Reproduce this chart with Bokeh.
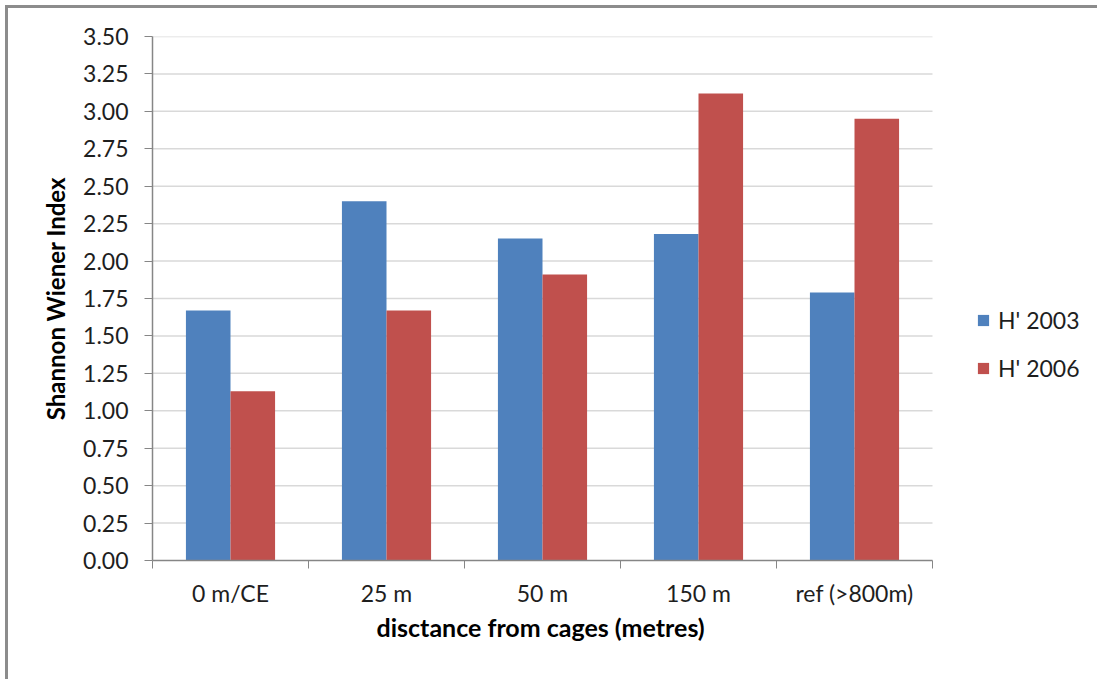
from bokeh.plotting import figure
from bokeh.models import (FixedTicker, NumeralTickFormatter, Range1d, Legend,
                          LegendItem, ColumnDataSource, Title)
from bokeh.embed import file_html
from bokeh.resources import INLINE
from jinja2 import Template

# Shannon-Wiener diversity by distance from the fish cages
categories = ["0 m/CE", "25 m", "50 m", "150 m", "ref (>800m)"]
h_2003 = [1.67, 2.40, 2.15, 2.18, 1.79]
h_2006 = [1.13, 1.67, 1.91, 3.12, 2.95]
series_names = ["H' 2003", "H' 2006"]
y_ticks = [0.0, 0.25, 0.5, 0.75, 1.0, 1.25, 1.5, 1.75, 2.0, 2.25, 2.5,
           2.75, 3.0, 3.25, 3.5]
x_title = "disctance from cages (metres)"
y_title = "Shannon Wiener Index"

BLUE = "#4f81bd"
RED = "#c0504d"
FONT = "Lato"
TEXT = "#1e1e1e"
AXIS = "#868686"

W, H = 1089, 671
LEFT, TOP, BOTTOM = 144, 28, 119
PLOT_W = 780                 # width of the category area in pixels
n = len(categories)
# the frame runs to the right edge so the legend can sit beside the bars
x_end = n * (W - LEFT) / PLOT_W

bar_w = 1 / 3.5              # Excel-style 150% gap width
centers = [i + 0.5 for i in range(n)]

src = ColumnDataSource(dict(
    x03=[c - bar_w / 2 for c in centers],
    x06=[c + bar_w / 2 for c in centers],
    h03=h_2003,
    h06=h_2006,
))

p = figure(
    width=W, height=H,
    x_range=Range1d(0, x_end),
    y_range=Range1d(0, 3.5),
    output_backend="svg", toolbar_location=None,
    min_border_left=LEFT, min_border_top=TOP,
    min_border_right=0, min_border_bottom=BOTTOM,
)
p.outline_line_color = None
p.background_fill_color = "white"
p.border_fill_color = "white"
p.xgrid.grid_line_color = None
p.ygrid.grid_line_color = None

# horizontal gridlines limited to the category area
grid_y = [t for t in y_ticks if t > 0]
p.segment(x0=[0] * len(grid_y), x1=[n] * len(grid_y), y0=grid_y, y1=grid_y,
          line_color="#d9d9d9", line_width=1.5)

r03 = p.vbar(x="x03", top="h03", width=bar_w, source=src,
             fill_color=BLUE, line_color=None)
r06 = p.vbar(x="x06", top="h06", width=bar_w, source=src,
             fill_color=RED, line_color=None)

# y axis
p.yaxis.ticker = FixedTicker(ticks=y_ticks)
p.yaxis.formatter = NumeralTickFormatter(format="0.00")
p.yaxis.axis_label = y_title
p.yaxis.axis_line_color = AXIS
p.yaxis.major_tick_line_color = AXIS
p.yaxis.major_tick_out = 8
p.yaxis.major_tick_in = 0
p.yaxis.minor_tick_line_color = None
p.yaxis.major_label_standoff = 16
p.yaxis.axis_label_standoff = 10
p.yaxis.axis_label_text_font = FONT
p.yaxis.axis_label_text_font_size = "24px"
p.yaxis.axis_label_text_font_style = "bold"
p.yaxis.axis_label_text_color = "black"

# x axis: labels at category centres, tick marks between categories
p.xaxis.bounds = (0, n)
p.xaxis.ticker = FixedTicker(ticks=centers, minor_ticks=list(range(n + 1)))
p.xaxis.major_label_overrides = {c: lab for c, lab in zip(centers, categories)}
p.xaxis.axis_line_color = AXIS
p.xaxis.major_tick_out = 0
p.xaxis.major_tick_in = 0
p.xaxis.minor_tick_line_color = AXIS
p.xaxis.minor_tick_out = 8
p.xaxis.minor_tick_in = 0
p.xaxis.major_label_standoff = 10

for ax in (p.xaxis, p.yaxis):
    ax.major_label_text_font = FONT
    ax.major_label_text_font_size = "23px"
    ax.major_label_text_color = TEXT
    ax.axis_line_width = 1.5

# x axis title, placed under the middle of the category area
p.add_layout(Title(text=x_title, align="left", offset=224, standoff=0,
                   text_font=FONT, text_font_size="25px",
                   text_font_style="bold", text_color="black"), "below")

legend = Legend(
    items=[LegendItem(label=series_names[0], renderers=[r03]),
           LegendItem(label=series_names[1], renderers=[r06])],
    location=(824, 178),
    padding=0, margin=0, spacing=20,
    glyph_width=14, glyph_height=14, label_standoff=8,
    label_text_font=FONT, label_text_font_size="23px",
    label_text_color=TEXT,
    border_line_color=None, background_fill_alpha=0,
)
p.add_layout(legend)

# page: grey rules along the top and left edges, chart placed inside them
PAGE = Template("""<!DOCTYPE html>
<html lang="en">
<head>
<meta charset="utf-8">
<title>{{ title if title else "Bokeh Plot" }}</title>
{{ bokeh_css }}
{{ bokeh_js }}
<style>
html, body { margin: 0; padding: 0; overflow: hidden; background: white; }
.rule-top { position: absolute; left: 5px; top: 5px; width: 1092px;
            height: 3px; background: #8c8c8c; }
.rule-left { position: absolute; left: 5px; top: 5px; width: 3px;
             height: 674px; background: #8c8c8c; }
.chart { position: absolute; left: 8px; top: 8px; }
</style>
</head>
<body>
<div class="rule-top"></div>
<div class="rule-left"></div>
<div class="chart">
{{ plot_div }}
</div>
{{ plot_script }}
</body>
</html>
""")

open("out.html", "w").write(file_html(p, INLINE, template=PAGE))
